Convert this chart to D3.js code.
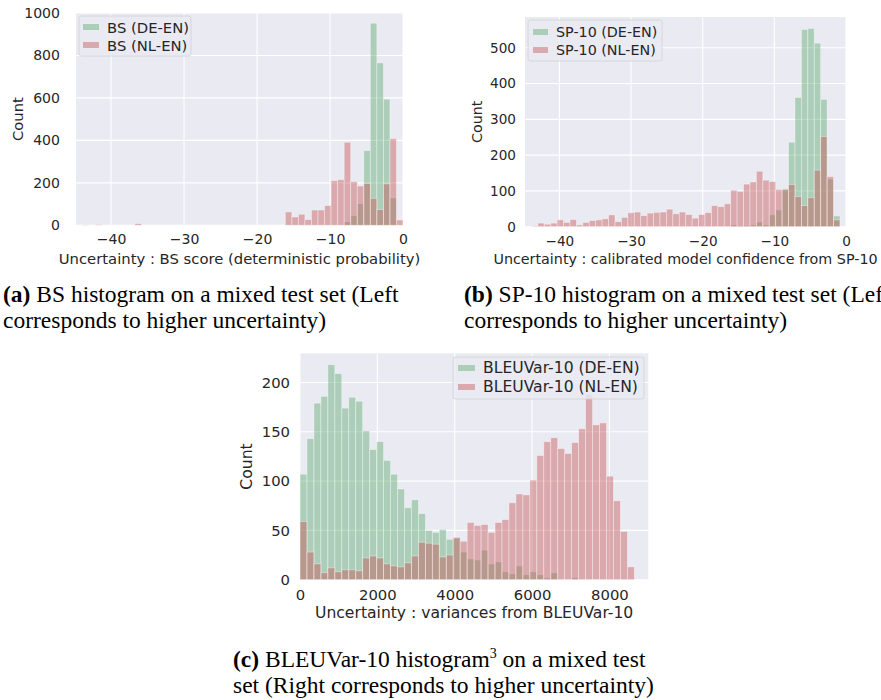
<!DOCTYPE html>
<html>
<head>
<meta charset="utf-8">
<script src="https://cdn.jsdelivr.net/npm/d3@7"></script>
<style>
  body { margin: 0; background: #fff; }
  svg { display: block; }
</style>
</head>
<body>
<svg id="fig" width="881" height="700"></svg>
<script>
// ---- data ----
// (a) BS score histogram, 49 bins
const bsBinStart = -43.9, bsBinWidth = 0.896;
const bsDE = [0,0,0,0,0,0,0,0,0,0, 0,0,0,0,0,0,0,0,0,0, 0,0,0,0,0,0,0,0,0,0,
              0,0,0,0,0,0,0,0,0,0, 17,46,102,352,952,765,594,129,0];
const bsNL = [2,0,4,0,0,0,0,0,8,0, 0,0,0,0,0,0,0,0,0,0, 0,0,0,0,0,0,0,0,0,0,
              0,63,39,52,27,72,72,93,210,215, 391,206,185,197,127,74,195,408,25];
const bsLabels = ["BS (DE-EN)", "BS (NL-EN)"];

// (b) SP-10 histogram, 48 bins
const spBinStart = -43.9, spBinWidth = 0.897;
const spDE = [0,0,0,0,0,0,0,0,0,0, 0,0,0,0,0,0,0,0,0,0, 0,0,0,0,0,0,0,0,0,0,
              0,5,3,3,5,13,5,33,47,106, 236,361,551,554,513,356,133,30];
const spNL = [2,10,7,10,19,12,20,5,12,17, 19,22,33,14,26,39,41,31,38,40,
              41,49,36,41,34,24,34,39,59,56, 64,102,99,119,125,155,130,126,104,104,
              118,84,59,81,158,252,140,19];
const spLabels = ["SP-10 (DE-EN)", "SP-10 (NL-EN)"];

// (c) BLEUVar-10 histogram, 48 bins
const bvBinStart = 0, bvBinWidth = 180.1;
const bvDE = [107,143,179,186,218,209,174,185,181,151, 132,140,121,107,92,73,81,67,50,48,
              51,41,42,28,21,20,30,16,18,8, 6,14,5,8,5,2,7,0,0,2, 0,0,0,0,0,0,0,0];
const bvNL = [59,28,16,7,12,8,10,10,9,22, 24,22,16,14,13,17,24,38,37,36,
              23,25,43,39,58,55,56,48,58,61, 78,87,86,101,126,140,144,133,128,139,
              153,188,157,159,105,80,49,13];
const bvLabels = ["BLEUVar-10 (DE-EN)", "BLEUVar-10 (NL-EN)"];

const negTicks = [-40, -30, -20, -10, 0];
const bsTicksY = [0, 200, 400, 600, 800, 1000];
const spTicksY = [0, 100, 200, 300, 400, 500];
const bvTicksX = [0, 2000, 4000, 6000, 8000];
const bvTicksY = [0, 50, 100, 150, 200];

const GREEN = "#55A868", RED = "#C44E52", BG = "#EAEAF2", INK = "#262626";
const SANS = "'DejaVu Sans', sans-serif", SERIF = "'Liberation Serif', 'Times New Roman', serif";
const fmt = d3.format("d"); // plain integers, unicode minus, no thousands comma

const svg = d3.select("#fig");
svg.append("rect").attr("width", 881).attr("height", 700).attr("fill", "#fff");

function drawPanel(p) {
  const x = d3.scaleLinear().domain(p.xDomain).range([p.left, p.left + p.width]);
  const y = d3.scaleLinear().domain(p.yDomain).range([p.top + p.height, p.top]);
  const g = svg.append("g");

  g.append("rect")
    .attr("x", p.left).attr("y", p.top)
    .attr("width", p.width).attr("height", p.height)
    .attr("fill", BG);

  // white grid
  g.append("g").selectAll("line").data(p.xTicks).join("line")
    .attr("x1", d => x(d)).attr("x2", d => x(d))
    .attr("y1", p.top).attr("y2", p.top + p.height)
    .attr("stroke", "#fff").attr("stroke-width", 1.1);
  g.append("g").selectAll("line").data(p.yTicks).join("line")
    .attr("x1", p.left).attr("x2", p.left + p.width)
    .attr("y1", d => y(d)).attr("y2", d => y(d))
    .attr("stroke", "#fff").attr("stroke-width", 1.1);

  // green first, red layered on top
  [[p.de, GREEN], [p.nl, RED]].forEach(([counts, color]) => {
    const bins = counts.map((c, i) => ({
      x0: p.binStart + i * p.binWidth,
      x1: p.binStart + (i + 1) * p.binWidth,
      c: c
    })).filter(b => b.c > 0);
    g.append("g").selectAll("rect").data(bins).join("rect")
      .attr("x", b => x(b.x0))
      .attr("width", b => x(b.x1) - x(b.x0))
      .attr("y", b => y(b.c))
      .attr("height", b => y(0) - y(b.c))
      .attr("fill", color).attr("fill-opacity", 0.42)
      .attr("stroke", "#fff").attr("stroke-opacity", 0.45).attr("stroke-width", 0.8);
  });

  // axes
  const tickFs = (p.fs * 0.95) + "px", fs = p.fs + "px";
  const xa = g.append("g")
    .attr("transform", `translate(0,${p.top + p.height})`)
    .call(d3.axisBottom(x).tickValues(p.xTicks).tickFormat(fmt).tickSize(0).tickPadding(p.xPad));
  const ya = g.append("g")
    .attr("transform", `translate(${p.left},0)`)
    .call(d3.axisLeft(y).tickValues(p.yTicks).tickFormat(fmt).tickSize(0).tickPadding(p.yPad));
  [xa, ya].forEach(a => {
    a.select(".domain").remove();
    a.selectAll("text").attr("fill", INK).style("font-family", SANS).style("font-size", tickFs);
  });

  g.append("text")
    .attr("x", p.left + p.width / 2).attr("y", p.xLabelY)
    .attr("text-anchor", "middle").attr("dominant-baseline", "central")
    .attr("fill", INK).style("font-family", SANS).style("font-size", fs)
    .text(p.xLabel);
  g.append("text")
    .attr("transform", `translate(${p.yLabelX},${p.top + p.height / 2}) rotate(-90)`)
    .attr("text-anchor", "middle").attr("dominant-baseline", "central")
    .attr("fill", INK).style("font-family", SANS).style("font-size", fs)
    .text("Count");

  // legend
  const L = p.legend;
  g.append("rect")
    .attr("x", L.x).attr("y", L.y).attr("width", L.w).attr("height", L.h)
    .attr("rx", 2.5)
    .attr("fill", BG).attr("fill-opacity", 0.8)
    .attr("stroke", "#d0d0d0").attr("stroke-width", 0.8);
  const rows = g.append("g").selectAll("g")
    .data([[p.labels[0], GREEN], [p.labels[1], RED]])
    .join("g")
    .attr("transform", (d, i) => `translate(0,${L.row0 + i * L.step})`);
  rows.append("rect")
    .attr("x", L.px).attr("y", -3).attr("width", L.pw).attr("height", 6)
    .attr("fill", d => d[1]).attr("fill-opacity", 0.42);
  rows.append("text")
    .attr("x", L.tx).attr("dominant-baseline", "central")
    .attr("fill", INK).style("font-family", SANS).style("font-size", fs)
    .text(d => d[0]);
}

drawPanel({
  left: 76, top: 13, width: 327, height: 212.3, fs: 14.8,
  xDomain: [-44.8, 0], yDomain: [0, 1000],
  xTicks: negTicks, yTicks: bsTicksY, xPad: 9, yPad: 16,
  binStart: bsBinStart, binWidth: bsBinWidth, de: bsDE, nl: bsNL, labels: bsLabels,
  xLabel: "Uncertainty : BS score (deterministic probability)", xLabelY: 258, yLabelX: 17,
  legend: { x: 79, y: 16, w: 112, h: 40, row0: 27, step: 18, px: 83, pw: 16, tx: 107 }
});

drawPanel({
  left: 525, top: 17, width: 321, height: 209.7, fs: 14.3,
  xDomain: [-44.8, 0], yDomain: [0, 586],
  xTicks: negTicks, yTicks: spTicksY, xPad: 9.3, yPad: 9,
  binStart: spBinStart, binWidth: spBinWidth, de: spDE, nl: spNL, labels: spLabels,
  xLabel: "Uncertainty : calibrated model confidence from SP-10", xLabelY: 259.3, yLabelX: 477,
  legend: { x: 528, y: 20, w: 134, h: 41, row0: 32, step: 18, px: 533, pw: 15, tx: 556 }
});

drawPanel({
  left: 300, top: 353.3, width: 348.3, height: 226.4, fs: 15.6,
  xDomain: [0, 9006], yDomain: [0, 229.6],
  xTicks: bvTicksX, yTicks: bvTicksY, xPad: 9.5, yPad: 10,
  binStart: bvBinStart, binWidth: bvBinWidth, de: bvDE, nl: bvNL, labels: bvLabels,
  xLabel: "Uncertainty : variances from BLEUVar-10", xLabelY: 613, yLabelX: 247,
  legend: { x: 453, y: 357, w: 191, h: 42, row0: 368, step: 19, px: 458, pw: 17, tx: 483 }
});

// captions
function caption(x, y0, lines) {
  const t = svg.append("g").style("font-family", SERIF).style("font-size", "23.5px").attr("fill", "#000");
  lines.forEach((parts, i) => {
    const tx = t.append("text").attr("x", x).attr("y", y0 + i * 25.6);
    parts.forEach(pt => {
      const s = tx.append("tspan").text(pt.t);
      if (pt.b) s.style("font-weight", "bold");
      if (pt.sup) s.attr("dy", -9).style("font-size", "14px");
      if (pt.down) s.attr("dy", 9);
    });
  });
}
caption(3, 302, [
  [{ t: "(a)", b: true }, { t: " BS histogram on a mixed test set (Left" }],
  [{ t: "corresponds to higher uncertainty)" }]
]);
caption(464, 302, [
  [{ t: "(b)", b: true }, { t: " SP-10 histogram on a mixed test set (Left" }],
  [{ t: "corresponds to higher uncertainty)" }]
]);
caption(233, 667, [
  [{ t: "(c)", b: true }, { t: " BLEUVar-10 histogram" }, { t: "3", sup: true }, { t: " on a mixed test", down: true }],
  [{ t: "set (Right corresponds to higher uncertainty)" }]
]);
</script>
</body>
</html>
